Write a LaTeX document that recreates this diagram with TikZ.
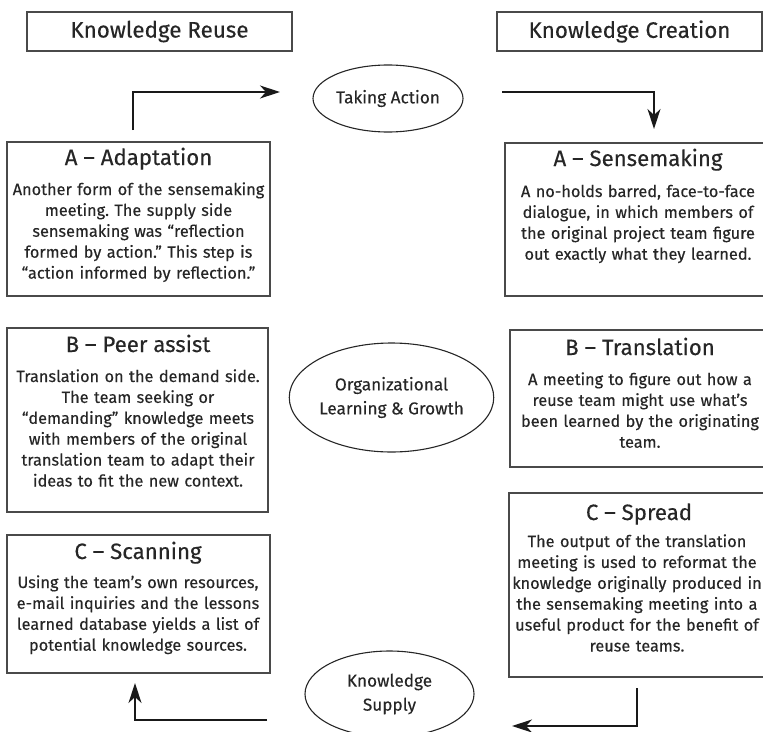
\documentclass[tikz,border=0pt]{standalone}
\usepackage{fontspec}
\setmainfont{Fira Sans}[FakeBold=0.3]
\usetikzlibrary{shapes.geometric,arrows.meta}
\definecolor{ink}{HTML}{262626}
\definecolor{frame}{HTML}{4A4A4A}
\frenchspacing
\tikzset{
  boxframe/.style={draw=frame, line width=1.1pt, rectangle, inner sep=0pt, outer sep=0pt, anchor=north west},
  hdr/.style={boxframe, text=ink, font=\fontsize{22.4}{26}\selectfont, anchor=center},
  ttl/.style={text=ink, font=\fontsize{22.2}{26}\selectfont, inner sep=0pt, anchor=base},
  body/.style={text=ink, font=\fontsize{16.3}{20.9}\selectfont, inner sep=0pt, anchor=base, align=center, text width=320pt},
  oval/.style={draw=ink, line width=1.1pt, ellipse, inner sep=0pt, text=ink, align=center, font=\fontsize{17.2}{24}\selectfont},
  arr/.style={draw=black!90, line width=1.3pt, -{Stealth[length=20pt,width=13pt,inset=6pt]}}
}
\begin{document}
\begin{tikzpicture}[x=1pt,y=-1pt]
\useasboundingbox (0,0) rectangle (763,731);
% headers
\node[hdr, minimum width=265pt, minimum height=39pt] (reuse) at (159.5,31.5) {Knowledge Reuse};
\node[hdr, minimum width=265pt, minimum height=39pt] (creation) at (629.5,31.5) {Knowledge Creation};
% ellipses
\node[oval, minimum width=150pt, minimum height=67pt] (action) at (388,98.5) {Taking Action};
\node[oval, minimum width=193pt, minimum height=109pt] (org) at (391.5,397.5) {Organizational\\Learning \& Growth};
\node[oval, minimum width=169pt, minimum height=86pt] (supply) at (389.5,694) {Knowledge\\Supply};
% left boxes
\node[boxframe, minimum width=263pt, minimum height=154pt] (adapt) at (7,142) {};
\node[ttl] (adaptT) at (138.5,165) {A – Adaptation};
\node[body] (adaptB) at (138.5,195) {Another form of the sensemaking\\meeting. The supply side\\sensemaking was “reflection\\formed by action.” This step is\\“action informed by reflection.”};
\node[boxframe, minimum width=261pt, minimum height=184pt] (peer) at (7,328) {};
\node[ttl] (peerT) at (138,352) {B – Peer assist};
\node[body] (peerB) at (138,382) {Translation on the demand side.\\The team seeking or\\“demanding” knowledge meets\\with members of the original\\translation team to adapt their\\ideas to fit the new context.};
\node[boxframe, minimum width=263pt, minimum height=138pt] (scan) at (7,535) {};
\node[ttl] (scanT) at (138,559) {C – Scanning};
\node[body] (scanB) at (138,588) {Using the team’s own resources,\\e-mail inquiries and the lessons\\learned database yields a list of\\potential knowledge sources.};
% right boxes
\node[boxframe, minimum width=266pt, minimum height=153pt] (sense) at (505,143) {};
\node[ttl] (senseT) at (638,166) {A – Sensemaking};
\node[body] (senseB) at (638,197) {A no-holds barred, face-to-face\\dialogue, in which members of\\the original project team figure\\out exactly what they learned.};
\node[boxframe, minimum width=260pt, minimum height=137pt] (trans) at (510,330) {};
\node[ttl] (transT) at (640,355) {B – Translation};
\node[body] (transB) at (640,385) {A meeting to figure out how a\\reuse team might use what’s\\been learned by the originating\\team.};
\node[boxframe, minimum width=260pt, minimum height=184pt] (spread) at (509,493) {};
\node[ttl] (spreadT) at (639,520) {C – Spread};
\node[body] (spreadB) at (637,547) {The output of the translation\\meeting is used to reformat the\\knowledge originally produced in\\the sensemaking meeting into a\\useful product for the benefit of\\reuse teams.};
% connector ends
\coordinate (c1s) at (133,130);
\coordinate (c1e) at (280,92);
\coordinate (c2s) at (502,92);
\coordinate (c2e) at (654,129);
\coordinate (c3s) at (637,688);
\coordinate (c3e) at (512,726);
\coordinate (c4s) at (267,720);
\coordinate (c4e) at (135,683);
\draw[arr] (c1s) |- (c1e);
\draw[arr] (c2s) -| (c2e);
\draw[arr] (c3s) |- (c3e);
\draw[arr] (c4s) -| (c4e);
\end{tikzpicture}
\end{document}
